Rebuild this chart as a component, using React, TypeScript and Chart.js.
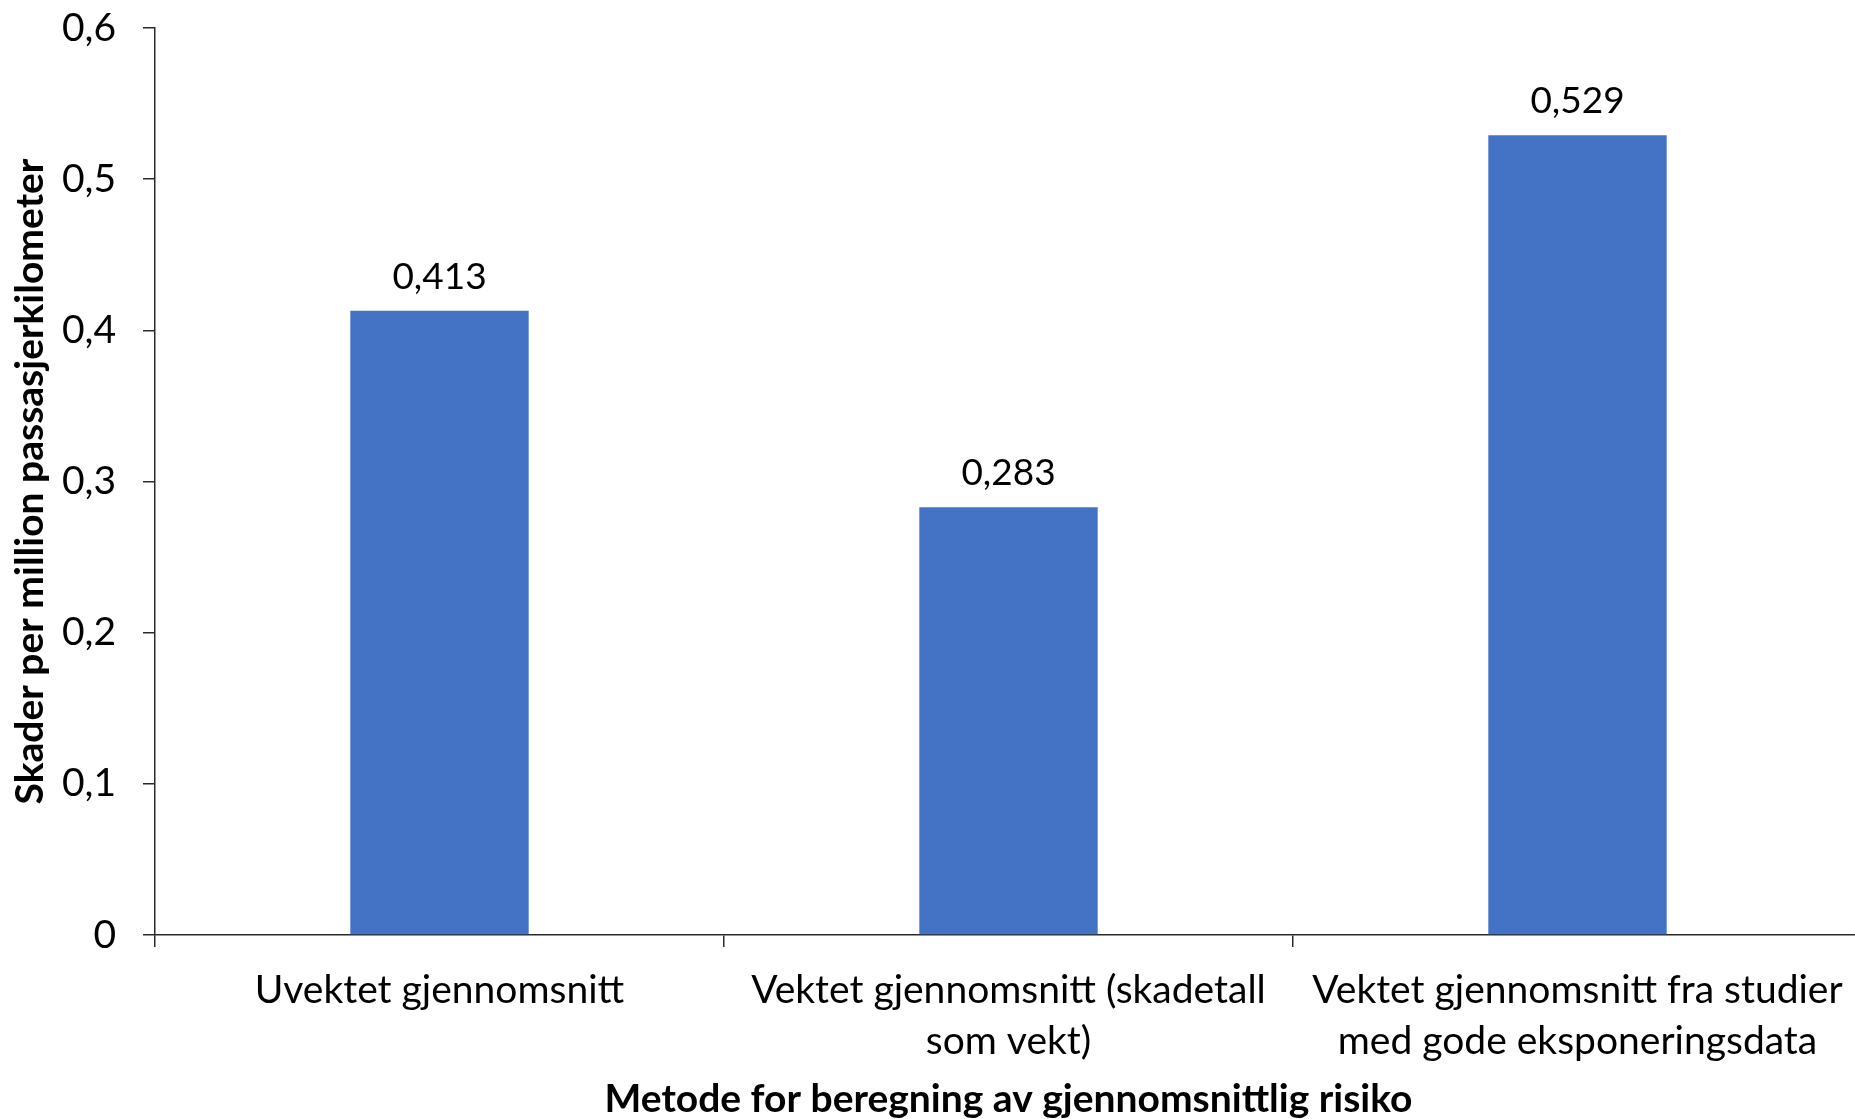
import React, { useEffect, useRef } from "react";
import { Chart, registerables } from "chart.js";

Chart.register(...registerables);

const categories: string[][] = [
  ["Uvektet gjennomsnitt"],
  ["Vektet gjennomsnitt (skadetall", "som vekt)"],
  ["Vektet gjennomsnitt fra studier", "med gode eksponeringsdata"],
];
const values: number[] = [0.413, 0.283, 0.529];
const yTicks: number[] = [0, 0.1, 0.2, 0.3, 0.4, 0.5, 0.6];
const xTitle = "Metode for beregning av gjennomsnittlig risiko";
const yTitle = "Skader per million passasjerkilometer";

const fmt = (v: number, digits: number) =>
  v === 0 ? "0" : v.toFixed(digits).replace(".", ",");

const FONT = "Lato";
const W = 1862;
const H = 1119;
const LINE = "#2a2a2a";

const labelPlugin = {
  id: "barValueLabels",
  afterDatasetsDraw(chart: any) {
    const ctx = chart.ctx;
    const meta = chart.getDatasetMeta(0);
    ctx.save();
    ctx.font = `37px ${FONT}`;
    ctx.fillStyle = "#000";
    ctx.textAlign = "center";
    ctx.textBaseline = "alphabetic";
    meta.data.forEach((el: any, i: number) => {
      ctx.fillText(fmt(values[i], 3), el.x, el.y - 22);
    });
    ctx.restore();
  },
};

export default function App() {
  const ref = useRef<HTMLCanvasElement>(null);
  useEffect(() => {
    if (!ref.current) return;
    const chart = new Chart(ref.current, {
      type: "bar",
      data: {
        labels: categories,
        datasets: [
          {
            data: values,
            backgroundColor: "#4472C4",
            borderWidth: 0,
            barPercentage: 0.3135,
            categoryPercentage: 1,
          },
        ],
      },
      options: {
        responsive: false,
        animation: false,
        layout: { padding: { top: 28, right: 0, bottom: 0, left: 0 } },
        plugins: {
          legend: { display: false },
          tooltip: { enabled: false },
        },
        scales: {
          x: {
            offset: true,
            border: { display: true, color: LINE, width: 1.5 },
            grid: {
              display: true,
              offset: true,
              drawOnChartArea: false,
              drawTicks: true,
              tickLength: 12,
              lineWidth: 1.5,
              color: LINE,
            },
            ticks: {
              color: "#000",
              padding: 17,
              maxRotation: 0,
              autoSkip: false,
              font: { family: FONT, size: 39, lineHeight: 1.33 },
            },
            title: {
              display: true,
              text: xTitle,
              color: "#000",
              padding: { top: 0, bottom: 0 },
              font: { family: FONT, size: 39, weight: "bold", lineHeight: 1.0 },
            },
            afterFit: (s: any) => {
              s.height = 184;
              s.paddingLeft = 0;
              s.paddingRight = 0;
            },
          },
          y: {
            min: 0,
            max: 0.6,
            afterBuildTicks: (s: any) => {
              s.ticks = yTicks.map((v) => ({ value: v }));
            },
            border: { display: true, color: LINE, width: 1.5 },
            grid: {
              display: true,
              drawOnChartArea: false,
              drawTicks: true,
              tickLength: 12,
              lineWidth: 1.5,
              color: LINE,
            },
            ticks: {
              color: "#000",
              padding: 27,
              font: { family: FONT, size: 39 },
              callback: (v: any) => fmt(Number(v), 1),
            },
            title: {
              display: true,
              text: yTitle,
              color: "#000",
              padding: { top: 7, bottom: 0 },
              font: { family: FONT, size: 39, weight: "bold" },
            },
            afterFit: (s: any) => {
              s.width = 155;
              s.paddingTop = 0;
              s.paddingBottom = 0;
            },
          },
        },
      },
      plugins: [labelPlugin],
    });
    return () => chart.destroy();
  }, []);
  return (
    <div
      style={{
        position: "absolute",
        left: 0,
        top: 0,
        width: 1855,
        height: 1119,
        overflow: "hidden",
        background: "#fff",
      }}
    >
      <canvas ref={ref} width={W} height={H} style={{ display: "block" }} />
    </div>
  );
}
